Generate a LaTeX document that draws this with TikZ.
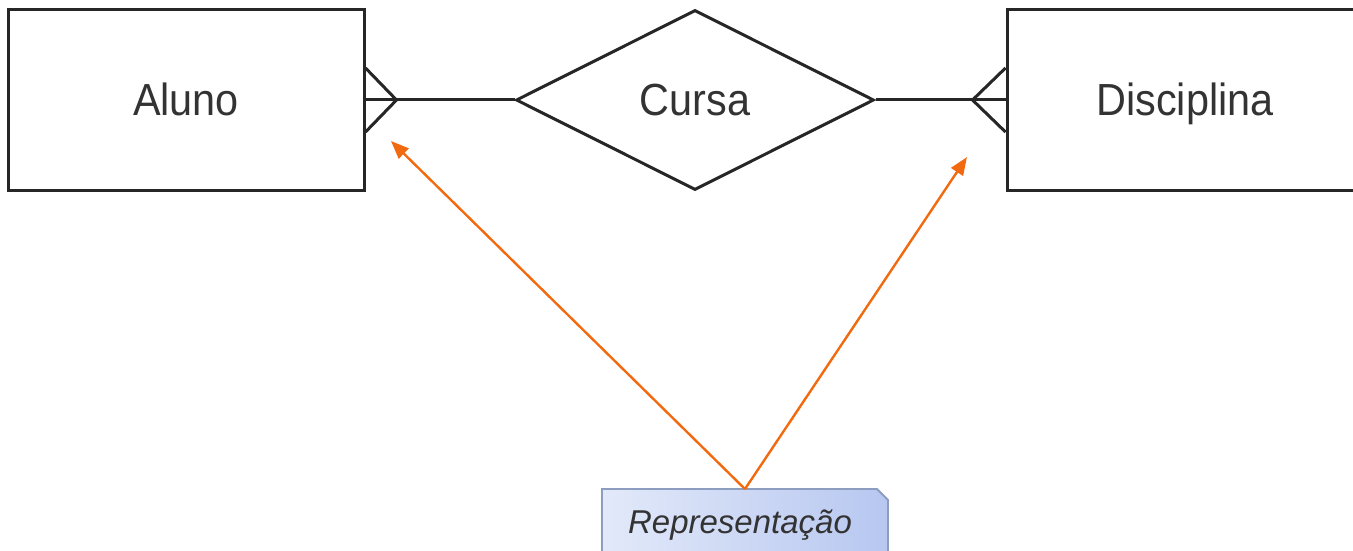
\documentclass[tikz,border=0pt]{standalone}
\usepackage{fontspec}
\setmainfont{Liberation Sans}
\usetikzlibrary{shapes.geometric,arrows.meta}
\definecolor{er}{HTML}{262626}
\definecolor{txt}{HTML}{333333}
\definecolor{arr}{HTML}{F26A10}
\definecolor{noteL}{HTML}{E2E9F9}
\definecolor{noteR}{HTML}{B7C7F0}
\definecolor{noteB}{HTML}{8C9DC0}
\newcommand{\ertxt}[1]{\scalebox{0.92}[1]{#1}}
\begin{document}
\begin{tikzpicture}[x=1pt,y=-1pt,
  entity/.style={draw=er,line width=3pt,minimum width=356pt,minimum height=180pt,inner sep=0pt,font=\fontsize{45}{48}\selectfont,text=txt,text height=34pt,text depth=2pt},
  rel/.style={draw=er,line width=3pt,shape=diamond,minimum width=358pt,minimum height=180pt,inner sep=0pt,font=\fontsize{45}{48}\selectfont,text=txt,text height=34pt,text depth=2pt},
  link/.style={draw=er,line width=3pt},
  pointer/.style={draw=arr,line width=2.4pt,-{Triangle[length=18pt,width=14pt]}},
  notebox/.style={draw=noteB,line width=1.8pt,left color=noteL,right color=noteR}
]
\useasboundingbox (0,0) rectangle (1353,551);
\node[entity] (aluno) at (186,100) {\ertxt{Aluno}};
\node[entity] (disc) at (1185,100) {\ertxt{Disciplina}};
\node[rel] (cursa) at (695,100) {\ertxt{Cursa}};
\draw[link] (aluno.east) -- (cursa.west);
\draw[link] (cursa.east) -- (disc.west);
\draw[link] ([yshift=32pt]aluno.east) -- ([xshift=31pt]aluno.east) -- ([yshift=-32pt]aluno.east);
\draw[link] ([yshift=32pt]disc.west) -- ([xshift=-33pt]disc.west) -- ([yshift=-32pt]disc.west);
% note
\path[notebox] (602,489) -- (877,489) -- (888,500) -- (888,560) -- (602,560) -- cycle;
\node[font=\fontsize{33}{36}\selectfont\itshape,text=txt,text height=24pt,text depth=4pt] (note) at (740,523) {Representação};
\coordinate (src) at (745,489);
\coordinate (tA) at (391,141);
\coordinate (tD) at (967,157);
\draw[pointer] (src) -- (tA);
\draw[pointer] (src) -- (tD);
\end{tikzpicture}
\end{document}
